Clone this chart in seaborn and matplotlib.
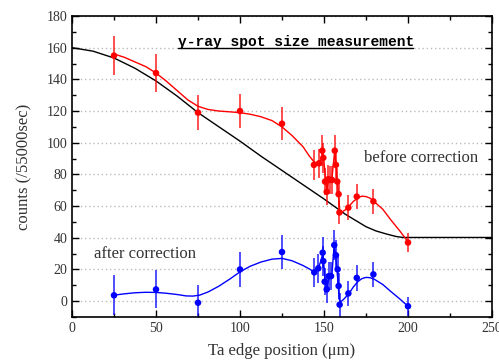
import matplotlib
matplotlib.use("Agg")
import matplotlib.pyplot as plt
import seaborn as sns
import pandas as pd
from matplotlib.ticker import MultipleLocator

# measured points (before correction)
red_x = [25, 50, 75, 100, 125, 144, 147, 149, 149.6, 150.6, 151.6, 152.6, 153.6, 154.8,
         156.4, 157.1, 157.9, 158.7, 159.2, 164.5, 169.5, 179.4, 200]
red_y = [155, 144, 119, 120, 112, 86, 87, 95, 90.5, 75.5, 69, 77, 76.5, 76.5,
         95, 86, 75.5, 67.5, 56, 59, 66, 63, 37]
red_err = [12.5, 12, 11, 11, 10.5, 9.3, 9.3, 9.7, 9.5, 8.7, 8.3, 8.8, 8.7, 8.7,
           9.7, 9.3, 8.7, 8.2, 7.5, 7.7, 8.1, 8, 6]

# after correction
blue_x = [25, 50, 75, 100, 125, 144.2, 146.6, 149.2, 149.6, 150.4, 151.6, 152.8, 154.2,
          156.1, 157.1, 158.1, 158.7, 159.3, 164.5, 169.5, 179.4, 200]
blue_y = [3.7, 7.4, -1, 20, 31, 18.2, 20.7, 30.6, 25.3, 12.3, 7.4, 15.8, 15.8,
          35.4, 29, 20.1, 9.6, -2.2, 4.9, 14.7, 16.9, -3.2]
blue_err = [12.5, 12, 11, 11, 10.5, 9.3, 9.3, 9.7, 9.5, 8.7, 8.3, 8.8, 8.7,
            9.7, 9.3, 8.7, 8.2, 7.5, 7.7, 8.1, 8, 6]

# smooth curves
red_cx = [25, 31, 37.5, 44, 50, 56, 62.5, 69, 75, 81, 87.5, 94, 100, 106, 112.5, 119, 125,
          131, 137.5, 141, 144, 146.5, 148, 149.3, 150, 150.8, 151.6, 152.5, 153.5, 154.8,
          155.7, 156.3, 157, 157.8, 158.6, 159.3, 160, 161, 162.5, 165, 167.5, 170, 172.5,
          175, 177.5, 180, 185, 190, 195, 200]
red_cy = [156, 154, 151, 148, 144, 139, 133, 127, 123, 121, 120, 119.5, 119, 118, 116.4, 114, 110,
          104.5, 97.5, 92, 88, 87, 89, 94, 88, 78, 71, 75, 77.5, 78,
          88, 94, 88, 77, 67, 58, 56, 56.5, 57.5, 60, 63, 65, 66.3,
          66, 65, 62.7, 58, 51, 44.5, 37.5]
blue_cx = [25, 31, 37.5, 44, 50, 56, 62.5, 68, 72, 76, 81, 87.5, 94, 100, 106, 112.5, 119, 125,
           131, 137.5, 141, 144, 146.5, 148, 149.3, 150, 150.6, 151.6, 152.6, 153.5, 154.7,
           155.5, 156.1, 156.8, 157.7, 158.4, 159.1, 160, 162, 165, 167.5, 170, 172.5, 175,
           177.5, 180, 185, 190, 195, 200]
blue_cy = [3.8, 4.6, 5.3, 5.6, 5.5, 5, 4.2, 3.3, 3.2, 3.8, 5.8, 9.5, 14, 18.5, 22, 24.7, 26.5, 27,
           25.5, 22.5, 20.5, 18.5, 20.5, 25, 30, 22, 12.5, 8, 13, 15.6, 16.5,
           28, 35, 30, 20, 11, 1, -0.4, 1.5, 5, 9, 12.2, 14.2, 15,
           14.8, 13.8, 10.5, 5.9, 1.5, -3.2]
black_x = [0, 12.5, 25, 37.5, 50, 62.5, 75, 87.5, 100, 112.5, 125, 137.5, 150, 162.5,
           175, 181, 187.5, 193, 197, 250]
black_y = [160, 157.8, 153.5, 147, 139, 129.5, 119, 110, 101, 91.5, 82.5, 73.5, 64.5, 55,
           47, 44.3, 42.3, 40.8, 40.2, 40.2]

sns.set_theme(style="white")
plt.rcParams['font.family'] = ['Liberation Serif', 'DejaVu Serif']

fig = plt.figure(figsize=(4.99, 3.63), dpi=100)
ax = fig.add_axes([72/499, 1-317/363, 420/499, 301/363])

df_black = pd.DataFrame({"x": black_x, "y": black_y})
df_rc = pd.DataFrame({"x": red_cx, "y": red_cy})
df_bc = pd.DataFrame({"x": blue_cx, "y": blue_cy})
sns.lineplot(data=df_black, x="x", y="y", color="black", lw=1.0, ax=ax, sort=False)
sns.lineplot(data=df_rc, x="x", y="y", color="red", lw=1.0, ax=ax, sort=False)
sns.lineplot(data=df_bc, x="x", y="y", color="blue", lw=1.0, ax=ax, sort=False)

ax.errorbar(red_x, red_y, yerr=red_err, fmt="none", ecolor="red", elinewidth=1.3, alpha=0.75)
ax.errorbar(blue_x, blue_y, yerr=blue_err, fmt="none", ecolor="blue", elinewidth=1.3, alpha=0.75)
df_r = pd.DataFrame({"x": red_x, "y": red_y})
df_b = pd.DataFrame({"x": blue_x, "y": blue_y})
sns.scatterplot(data=df_r, x="x", y="y", color="red", s=22, edgecolor="none", ax=ax, zorder=5)
sns.scatterplot(data=df_b, x="x", y="y", color="blue", s=22, edgecolor="none", ax=ax, zorder=5)

ax.set_xlim(0, 250)
ax.set_ylim(-10, 180)
ax.xaxis.set_major_locator(MultipleLocator(50))
ax.xaxis.set_minor_locator(MultipleLocator(25))
ax.yaxis.set_major_locator(MultipleLocator(20))
ax.yaxis.set_minor_locator(MultipleLocator(10))
ax.set_yticks([0, 20, 40, 60, 80, 100, 120, 140, 160, 180])
ax.tick_params(which="both", direction="in", top=True, right=True, bottom=True, left=True,
               colors="black", labelcolor="#333333", labelsize=10)
ax.tick_params(which="major", length=5, width=1)
ax.tick_params(which="minor", length=3, width=1)
for sp in ax.spines.values():
    sp.set_color("black")
    sp.set_linewidth(1.2)
ax.grid(True, which="major", axis="y", color="#bbbbbb", linestyle=(0, (1, 2)), lw=1.0)
ax.set_axisbelow(True)

ax.set_xlabel("Ta edge position (\u03bcm)", fontsize=12, color="#333333", labelpad=6)
ax.set_ylabel("counts (/55000sec)", fontsize=12, color="#333333", labelpad=10)

ax.text(0.533, 0.914, "\u03b3-ray spot size measurement", transform=ax.transAxes,
        ha="center", va="center", fontsize=10.5, fontweight="bold",
        family=["Liberation Mono", "DejaVu Sans Mono"], color="black")
ax.plot([0.252, 0.812], [0.893, 0.893], transform=ax.transAxes, color="black", lw=1.0)
ax.text(0.695, 0.528, "before correction", transform=ax.transAxes,
        ha="left", va="center", fontsize=12, color="#333333")
ax.text(0.053, 0.21, "after correction", transform=ax.transAxes,
        ha="left", va="center", fontsize=12, color="#333333")

fig.savefig("out.png", dpi=100)
